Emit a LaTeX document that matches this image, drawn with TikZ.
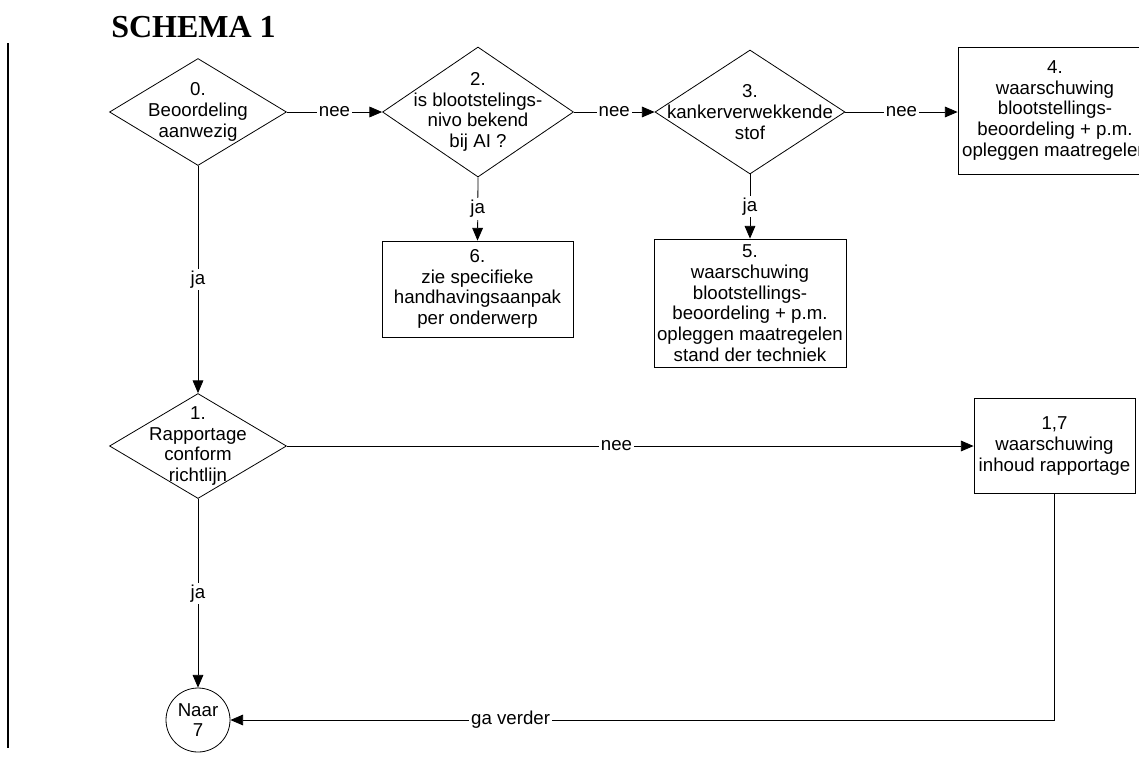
\documentclass[tikz,border=0pt]{standalone}
\usepackage{fontspec}
\setmainfont{Liberation Sans}
\newfontfamily\titlefont{Liberation Serif}
\usepackage{tikz}
\usetikzlibrary{shapes.geometric,arrows.meta}

\begin{document}
\begin{tikzpicture}[x=0.75pt,y=-0.75pt,
  every node/.style={font=\fontsize{14}{15.5}\selectfont},
  decision/.style={draw,shape=diamond,inner sep=0pt,line width=0.6pt},
  box/.style={draw,rectangle,align=center,inner sep=1pt,line width=0.6pt},
  flow/.style={line width=0.6pt,-{Triangle[length=9.5pt,width=8pt]}},
  lbl/.style={fill=white,inner sep=1.5pt}]
  \path[use as bounding box,clip] (0,0) rectangle (1139,758);
  \node[anchor=base,font=\titlefont\bfseries\fontsize{24}{28}\selectfont] (title) at (193.5,37) {SCHEMA 1};
  \draw[line width=1.5pt] (8,43) -- (8,748);
  \node[decision,minimum width=132.75pt,minimum height=80.25pt,
    label={[align=center]center:{0.\\Beoordeling\\aanwezig}}] (d0) at (198,112) {};
  \node[decision,minimum width=143.25pt,minimum height=97.5pt,
    label={[align=center]center:{2.\\is blootstelings-\\nivo bekend\\bij AI ?}}] (d2) at (478,112) {};
  \node[decision,minimum width=142.5pt,minimum height=93pt,
    label={[align=center]center:{3.\\kankerverwekkende\\stof}}] (d3) at (750,112) {};
  \node[decision,minimum width=132.75pt,minimum height=78.75pt,
    label={[align=center]center:{1.\\Rapportage\\conform\\richtlijn}}] (d1) at (198,446) {};
  \node[box,minimum width=145.5pt,minimum height=95.25pt] (b4) at (1055,110.5)
    {4.\\waarschuwing\\blootstellings-\\beoordeling + p.m.\\opleggen maatregelen};
  \node[box,minimum width=143.25pt,minimum height=72pt] (b6) at (477.5,289)
    {6.\\zie specifieke\\handhavingsaanpak\\per onderwerp};
  \node[box,minimum width=144pt,minimum height=96pt] (b5) at (750,303)
    {5.\\waarschuwing\\blootstellings-\\beoordeling + p.m.\\opleggen maatregelen\\stand der techniek};
  \node[box,minimum width=120.75pt,minimum height=71.25pt] (b17) at (1054.5,446)
    {1,7\\waarschuwing\\inhoud rapportage};
  \node[draw,circle,line width=0.6pt,minimum size=48pt,inner sep=0pt,align=center] (naar7) at (198,720)
    {Naar\\7};
  \draw[flow] (d0.east) -- node[lbl] {nee} (d2.west);
  \draw[flow] (d2.east) -- node[lbl] {nee} (d3.west);
  \draw[flow] (d3.east) -- node[lbl] {nee} (d3.east -| b4.west);
  \draw[flow] (d2.south) -- node[lbl] {ja} (b6.north);
  \draw[flow] (d3.south) -- node[lbl] {ja} (b5.north);
  \draw[flow] (d0.south) -- node[lbl] {ja} (d1.north);
  \draw[flow] (d1.south) -- node[lbl] {ja} (naar7.north);
  \draw[flow] (d1.east) -- node[lbl,pos=0.48] {nee} (b17.west);
  \draw[flow] (b17.south) |- node[lbl,pos=0.83] {ga verder} (naar7.east);
\end{tikzpicture}
\end{document}
